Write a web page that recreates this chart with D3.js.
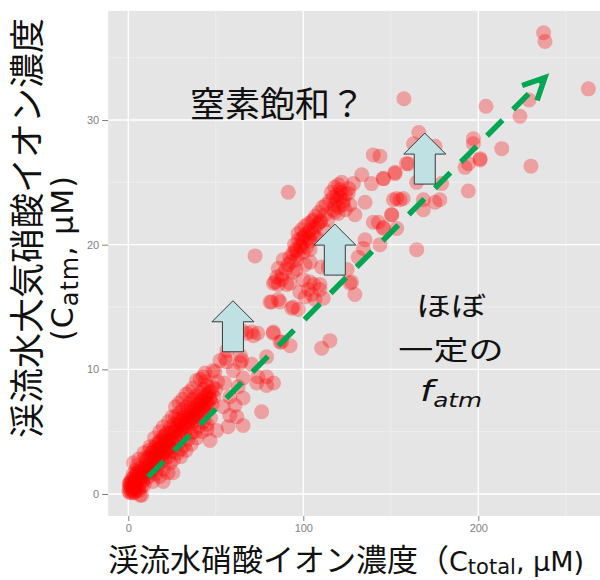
<!DOCTYPE html>
<html><head><meta charset="utf-8">
<script src="https://cdn.jsdelivr.net/npm/d3@7"></script>
<style>body{margin:0;background:#fff}</style>
</head><body><svg id="c" width="600" height="580"></svg>
<script>
// [C_total, C_atm] pairs (µM)
const lowCluster = [
 [0.3,0.2],[0.6,0.5],[1,0.1],[1.2,0.7],[1.5,0.3],[2,0.6],[2.2,0.1],[2.5,0.9],[3,0.4],[3.2,1.1],[3.5,0.7],[4,0.2],[4,1.0],[4.5,0.6],[4.8,1.4],[5,0.9],[5.5,0.4],[5.8,1.2],[6,1.7],[6.5,0.8],[6.7,-0.1],[7,1.3],[7.5,0.6],[7.7,-0.1],[8,1.0],[8.2,1.8],[2.8,1.6],[1.8,1.2],[4.2,1.9],[0.8,0.9],[3.6,0.1],[9,0.7],[5.2,2.3],[7,2.1],
 [9,1.5],[9.5,2.9],[10,1.2],[10,2.3],[11,1.8],[11,2.9],[12,1.4],[12,2.3],[12.4,3.8],[13,2.7],[13.5,1.8],[14,2.2],[14,3.4],[15,2.8],[15.5,1.6],[16,3.2],[16,4.0],[17,2.4],[17,3.6],[18,1.4],[18,3.0],[18,4.3],[19,2.6],[19,3.8],[20,3.4],[20,4.6],[21,2.8],[21,4.2],[22,3.6],[22,4.9],[22.7,1.7],[23,3.0],[23,4.3],[24,3.8],[24,5.3],[25,3.4],[25,4.6],[25.5,1.7],[21,4.7],[14,1.0],[20,2.0],[16.5,2.0],
 [26,2.8],[26,4.0],[26,5.6],[27,5.0],[27,6.2],[28,3.3],[28,4.5],[28,5.6],[29,5.1],[29,6.5],[30,3.6],[30,4.8],[30,5.9],[31,5.4],[31,6.8],[32,3.9],[32,5.0],[32,6.3],[33,5.8],[33.4,7.0],[34,4.4],[34,5.3],[34,6.6],[35,6.0],[35,7.3],[36,4.9],[36,5.6],[36,6.9],[37,6.2],[37,7.6],[38,5.0],[38,5.9],[38,7.1],[39,6.5],[39,7.9],[39,9.1],[40,5.4],[40,6.2],[40,7.4],[41,6.8],[41,8.1],[42,6.4],[42,7.6],[42.8,9.4],[43,5.8],[43,7.0],[43,8.4],[44,6.6],[44,7.9],[45,5.6],[45,7.3],[45,8.7],[46,7.0],[46,8.2],[46.7,4.3],[47,6.1],[47,7.6],[48,7.2],[48,8.6],[48.5,9.9],[49,7.8],[49.5,9.8],[50,8.4],[50.5,5.1],[51,9.0],[43.8,9.7],
 [0.5,0.8],[1.5,1.0],[2.5,0.3],[3.5,1.4],[4.5,1.6],[5.5,1.8],[6.2,0.3],[7.2,1.7],[8.5,1.3],[9.5,2.1],[10.5,1.7],[10.5,2.7],[11.5,2.2],[12.5,3.0],[13,2.0],[13.5,3.3],[14.5,2.8],[15,3.7],[15.5,2.4],[16.5,3.5],[17.5,3.0],[17.5,4.1],[18.5,3.5],[19.5,3.2],[19.5,4.3],[20.5,3.9],[21.5,3.4],[22.5,4.2],[23.5,3.7],[23.5,4.9],[24.5,4.4],[25.5,5.0],[26.5,4.5],[27.5,5.3],[28.5,4.1],[28.5,6.0],[29.5,5.6],[30.5,5.2],[31.5,6.1],[32.5,5.5],[33.5,6.2],[34.5,5.8],[35.5,6.5],[36.5,6.1],[37.5,6.8],[38.5,6.4],[39.5,7.2],[40.5,6.7],[41.5,7.4],[42.5,7.0],[43.5,7.7],[44.5,7.2],[45.5,8.0],[46.5,7.6],[47.5,8.2],[44,9.0],[41,9.2],[37,8.5],[35,8.2],[33,8.0],[31,7.6],[29,7.3],[27,7.0],[25,6.2],[23,5.8],[20,5.4],[18,5.0],[15,4.5],[12,3.5],[9,3.3],[30,3.0],[33,3.5],[36,4.0],[39,4.5],[42,5.0],[45,5.2],[24,2.5],[20,1.0],[6,2.8],[3,2.5]
];
const transitionPoints = [
 [52.4,10.7],[54.3,7.0],[55,8.9],[55.3,10.9],[56.2,10.6],[56.4,11.5],[57,5.4],[58,6.3],[58,7.8],[60,9.9],[61,7.1],[62,6.2],[62.8,8.6],[64,10.5],[64.8,10.7],[65.6,5.5],[65.6,7.7],[65.6,9.3],[67.6,12.9],[70.5,13.0],[70.5,10.4],[71.5,12.7],[73.4,8.9],[74,9.4],[76.2,6.6],[79,9.4],[79,11.0],[79,8.7],[82.8,12.9],[83,8.9],[87.6,12.2],[92.4,11.9],[81.9,15.4],[86.7,15.4],[93.4,14.9],[85.7,16.8],[90.5,16.8],[83.8,17.0],[65,13.1],[74,12.9],[64,11.1]
];
const midCluster = [
 [72.4,19.1],[91.4,24.2],[140,27.2],[133.4,25.6],[128.6,24.9],[139,24.9],[145.7,25.3],[152.4,25.8],[159,26.5],[121,24.4],[125.7,24.1],[119,23.6],[122.8,23.2],[126.7,23.2],[117,22.8],[129.5,22.4],[135.3,23.4],[112.4,22.4],[109.5,21.8],[106.7,21.4],[102.9,21.0],[100,20.6],[97.1,20.4],[99,19.8],[103.8,19.6],[95.3,19.6],[92.4,19.0],[96.2,18.8],[88.6,18.8],[85.7,18.1],[84.8,17.4],[87.6,17.2],[82.9,16.9],[92.4,16.9],[91.4,18.4],[101,18.4],[110.5,18.2],[81,15.4],[85.7,15.6],[94.3,15.0],[97.1,14.8],[102.9,16.4],[104.8,16.0],[109.5,16.4],[111.4,15.7],[106.7,15.6],[103.8,17.0],[109.5,16.8],[114.3,18.2],[126.7,16.9],[129.5,16.0],[135.3,20.4],[134.3,19.7],[131.4,19.0],[140,21.8],[145.7,21.3],[150.5,22.4],[153.4,23.7],[157.1,23.7],[164.8,19.6],[82.9,13.0],[86.7,12.2],[115.2,12.3],[110.5,11.7],[125,18.0],[127.6,17.0],[142.9,21.8],
 [100,20.2],[101,20.8],[103,20.5],[104,21.2],[105,20.9],[98,19.9],[99,20.5],[96,19.5],[97,19.2],[102,19.8],[104,20.3],[106,20.8],[108,21.6],[110,21.9],[94,19.3],[93,18.6],[100,19.4],[106,22.0],[118,23.2],[119,24.0],[120,23.0],[121,23.8],[122,24.2],[123,23.5],[124,22.8],[120,22.5],[117,23.8],[118,22.6],
 [95,20.0],[97,20.9],[99,21.2],[101,21.5],[103,21.7],[105,21.9],[107,22.3],[109,22.6],[111,23.0],[113,23.2],[115,23.5],[116,24.2],[118,24.6],[120,24.8],[122,25.0],[124,24.0],[126,24.5],[114,22.0],[112,21.2],[108,20.5],[96,18.0],[94,17.8],[90,18.0],[88,17.6],[100,17.2],[104,18.6],[98,16.2],[101,15.8],[106,16.8]
];
const upperPoints = [
 [237.3,37.0],[238.1,36.3],[262.9,32.5],[157.5,31.7],[204.4,31.1],[229,31.6],[223.8,30.3],[197.2,28.5],[197.2,28.1],[213.4,27.7],[201,26.8],[194.3,26.5],[192.4,26.2],[230.1,26.3],[194.3,24.3],[163,28.1],[175.3,27.9],[160,26.5],[152.4,25.7],[145.8,25.3],[143.8,27.1],[164.8,25.0],[179,24.9],[151.5,23.6],[155.3,23.6],[168.6,23.6],[175.3,23.4],[178,23.6],[168.6,22.8],[150.5,22.4],[153.4,21.3],[145.7,21.4],[143.8,20.0],[201,26.9],[166,29.0]
];
const xTicks = [0, 100, 200];
const yTicks = [0, 10, 20, 30];
const xMinor = [50, 150, 250];
const yMinor = [5, 15, 25, 35];
const trendX = [11.3, 238];      // f_atm guide arrow
const trendY = [1.36, 33.4];
const upArrowX = [59.8, 118, 169.4];
const upArrowY = [15.5, 21.65, 28.95];

const svg = d3.select('#c');
const x = d3.scaleLinear().domain([0, 200]).range([128.3, 478.3]);
const y = d3.scaleLinear().domain([0, 30]).range([494, 120]);
const px0 = x(-11.5), px1 = 600, py0 = y(38.75), py1 = y(-1.77);

svg.append('rect').attr('x', px0).attr('y', py0).attr('width', px1 - px0).attr('height', py1 - py0).attr('fill', '#e5e5e5');
const grid = svg.append('g');
grid.selectAll('.vm').data(xMinor).join('line').attr('x1', d => x(d)).attr('x2', d => x(d)).attr('y1', py0).attr('y2', py1).attr('stroke', '#f2f2f2').attr('stroke-width', 0.7);
grid.selectAll('.hm').data(yMinor).join('line').attr('y1', d => y(d)).attr('y2', d => y(d)).attr('x1', px0).attr('x2', px1).attr('stroke', '#f2f2f2').attr('stroke-width', 0.7);
grid.selectAll('.vM').data(xTicks).join('line').attr('x1', d => x(d)).attr('x2', d => x(d)).attr('y1', py0).attr('y2', py1).attr('stroke', '#fff').attr('stroke-width', 1.3);
grid.selectAll('.hM').data(yTicks).join('line').attr('y1', d => y(d)).attr('y2', d => y(d)).attr('x1', px0).attr('x2', px1).attr('stroke', '#fff').attr('stroke-width', 1.3);

const gx = svg.append('g').attr('transform', `translate(0,${py1})`)
  .call(d3.axisBottom(x).tickValues(xTicks).tickSize(5).tickPadding(3));
const gy = svg.append('g').attr('transform', `translate(${px0},0)`)
  .call(d3.axisLeft(y).tickValues(yTicks).tickSize(6).tickPadding(3));
[gx, gy].forEach(g => {
  g.select('.domain').remove();
  g.selectAll('line').attr('stroke', '#7f7f7f');
  g.selectAll('text').attr('fill', '#7f7f7f').style('font-family', 'Liberation Sans, Arial, sans-serif').style('font-size', '11px');
});

const allPts = lowCluster.concat(transitionPoints, midCluster, upperPoints);
svg.append('g').selectAll('circle').data(allPts).join('circle')
  .attr('cx', d => x(d[0])).attr('cy', d => y(d[1])).attr('r', 7.5)
  .attr('fill', '#ff0000').attr('fill-opacity', 0.3);

// green dashed arrow
const green = '#00a651';
const ax0 = x(trendX[0]), ay0 = y(trendY[0]), ax1 = x(trendX[1]), ay1 = y(trendY[1]);
svg.append('line').attr('x1', ax0).attr('y1', ay0).attr('x2', ax1).attr('y2', ay1)
  .attr('stroke', green).attr('stroke-width', 5.5).attr('stroke-dasharray', '22,15');
const ang = Math.atan2(ay0 - ay1, ax0 - ax1);
const armL = 24, spread = 26 * Math.PI / 180;
const hp = [[ax1 + armL * Math.cos(ang + spread), ay1 + armL * Math.sin(ang + spread)], [ax1, ay1], [ax1 + armL * Math.cos(ang - spread), ay1 + armL * Math.sin(ang - spread)]];
svg.append('path').attr('d', d3.line()(hp)).attr('fill', 'none').attr('stroke', green).attr('stroke-width', 5.5).attr('stroke-linejoin', 'miter').attr('stroke-miterlimit', 10);

// up arrows
const shape = [[0,0],[21,21],[10.5,21],[10.5,51],[-10.5,51],[-10.5,21],[-21,21]];
svg.append('g').selectAll('path').data(upArrowX.map((v, i) => [v, upArrowY[i]])).join('path')
  .attr('d', d => d3.line()(shape.map(p => [x(d[0]) + p[0], y(d[1]) + p[1]])) + 'Z')
  .attr('fill', '#bfe1e4').attr('stroke', '#3a3a3a').attr('stroke-width', 1);

const jp = "'Noto Sans CJK JP', sans-serif";
const lat = "'DejaVu Sans', sans-serif";

svg.append('text').attr('x', 190).attr('y', 117).style('font-family', jp).style('font-size', '35px').attr('fill', '#111').text('窒素飽和？');

const note = svg.append('g').attr('transform', 'translate(451,0) scale(1.3,1)');
note.append('text').attr('x', 0).attr('y', 316).attr('text-anchor', 'middle').style('font-family', jp).style('font-size', '27px').attr('fill', '#111').text('ほぼ');
note.append('text').attr('x', 0).attr('y', 360).attr('text-anchor', 'middle').style('font-family', jp).style('font-size', '27px').attr('fill', '#111').text('一定の');
const ft = note.append('text').attr('x', 0).attr('y', 401).attr('text-anchor', 'middle').style('font-family', lat).style('font-style', 'italic').attr('fill', '#111');
ft.append('tspan').style('font-size', '29px').text('f');
ft.append('tspan').style('font-size', '19px').attr('dy', 6).text('atm');

// x axis title
const xt = svg.append('text').attr('x', 108).attr('y', 571).attr('fill', '#111');
xt.append('tspan').style('font-family', jp).style('font-size', '31px').text('渓流水硝酸イオン濃度（');
xt.append('tspan').style('font-family', lat).style('font-size', '27px').text('C');
xt.append('tspan').style('font-family', lat).style('font-size', '21px').attr('dy', 3).text('total');
xt.append('tspan').style('font-family', lat).style('font-size', '27px').attr('dy', -3).text(', μM)');

// y axis title
svg.append('text').attr('transform', 'translate(40,228) rotate(-90)').attr('text-anchor', 'middle')
  .style('font-family', jp).style('font-size', '35px').attr('fill', '#111').text('渓流水大気硝酸イオン濃度');
const yt2 = svg.append('text').attr('transform', 'translate(73,258) rotate(-90)').attr('text-anchor', 'middle').attr('fill', '#111').style('font-family', lat).style('letter-spacing', '1px');
yt2.append('tspan').style('font-size', '30px').text('(C');
yt2.append('tspan').style('font-size', '24px').attr('dy', 5).text('atm');
yt2.append('tspan').style('font-size', '30px').attr('dy', -5).text(', μM)');
</script></body></html>
